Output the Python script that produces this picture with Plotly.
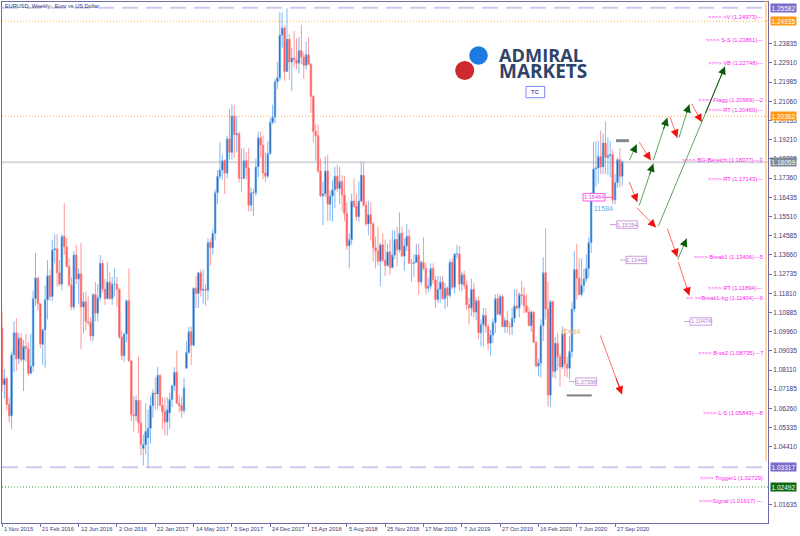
import pandas as pd
import plotly.graph_objects as go

# ---- weekly EURUSD candles ----
opens = [
1.1015,1.0740,1.0770,1.0645,1.0590,1.0885,1.0990,1.0865,1.0965,1.0860,
1.0925,1.0915,1.0795,1.0830,1.1155,1.1255,1.1130,1.0935,1.1005,1.1150,
1.1265,1.1165,1.1390,1.1395,1.1280,1.1225,1.1455,1.1405,1.1310,1.1220,
1.1115,1.1365,1.1250,1.1275,1.1115,1.1140,1.1045,1.1040,1.0975,1.1175,
1.1085,1.1160,1.1325,1.1200,1.1155,1.1235,1.1155,1.1225,1.1225,1.1200,
1.0970,1.0880,1.0985,1.1145,1.0855,1.0595,1.0590,1.0665,1.0555,1.0432,
1.0451,1.0485,1.0530,1.0640,1.0700,1.0695,1.0785,1.0640,1.0610,1.0560,
1.0604,1.0669,1.0735,1.0800,1.0650,1.0640,1.0615,1.0820,1.0895,1.0995,
1.0930,1.1205,1.1180,1.1280,1.1195,1.1200,1.1195,1.1425,1.1400,1.1470,
1.1665,1.1745,1.1775,1.1820,1.1760,1.1925,1.1860,1.2035,1.1945,1.1950,
1.1735,1.1735,1.1820,1.1785,1.1605,1.1665,1.1665,1.1790,1.1930,1.1895,
1.1760,1.1745,1.1855,1.2005,1.2030,1.2200,1.2220,1.2425,1.2460,1.2250,
1.2405,1.2295,1.2315,1.2305,1.2290,1.2350,1.2320,1.2280,1.2330,1.2285,
1.2130,1.1960,1.1940,1.1770,1.1650,1.1660,1.1770,1.1610,1.1650,1.1680,
1.1745,1.1685,1.1720,1.1655,1.1565,1.1410,1.1440,1.1625,1.1600,1.1550,
1.1625,1.1750,1.1605,1.1515,1.1560,1.1515,1.1400,1.1385,1.1335,1.1415,
1.1340,1.1315,1.1380,1.1305,1.1365,1.1440,1.1390,1.1470,1.1360,1.1410,
1.1455,1.1325,1.1325,1.1330,1.1365,1.1235,1.1330,1.1300,1.1205,1.1215,
1.1300,1.1245,1.1150,1.1200,1.1235,1.1155,1.1205,1.1170,1.1330,1.1210,
1.1370,1.1370,1.1225,1.1270,1.1220,1.1125,1.1110,1.1200,1.1090,1.1145,
1.0990,1.1030,1.1075,1.1020,1.0940,1.0980,1.1040,1.1155,1.1080,1.1165,
1.1020,1.1050,1.1020,1.1020,1.1060,1.1120,1.1110,1.1175,1.1170,1.1120,
1.1090,1.1025,1.1090,1.0945,1.0830,1.0845,1.1025,1.1280,1.1105,1.0690,
1.1140,1.0805,1.0940,1.0875,1.0825,1.0985,1.0840,1.0820,1.0900,1.1105,
1.1295,1.1255,1.1175,1.1220,1.1250,1.1300,1.1425,1.1655,1.1780,1.1785,
1.1840,1.1790,1.1905,1.1835,1.1845,1.1850,1.1630,1.1715,1.1825,1.1745]
highs = [
1.1095,1.0815,1.0775,1.0680,1.0900,1.1045,1.1060,1.0990,1.0990,1.0955,
1.0985,1.0945,1.0985,1.1195,1.1375,1.1260,1.1130,1.1010,1.1220,1.1340,
1.1295,1.1438,1.1465,1.1465,1.1340,1.1465,1.1615,1.1445,1.1350,1.1260,
1.1385,1.1415,1.1300,1.1425,1.1185,1.1190,1.1165,1.1065,1.1180,1.1235,
1.1225,1.1365,1.1340,1.1250,1.1330,1.1285,1.1260,1.1300,1.1260,1.1205,
1.1000,1.0990,1.1150,1.1300,1.0855,1.0685,1.0690,1.0875,1.0665,1.0500,
1.0650,1.0620,1.0685,1.0720,1.0775,1.0825,1.0790,1.0680,1.0680,1.0680,
1.0700,1.0740,1.0825,1.0905,1.0690,1.0680,1.0775,1.0950,1.1020,1.1020,
1.1210,1.1265,1.1285,1.1295,1.1295,1.1225,1.1445,1.1445,1.1490,1.1680,
1.1775,1.1910,1.1850,1.1825,1.1940,1.2070,1.2092,1.2090,1.2035,1.1960,
1.1880,1.1880,1.1860,1.1880,1.1690,1.1685,1.1830,1.1960,1.1960,1.1940,
1.1860,1.1915,1.2025,1.2090,1.2215,1.2295,1.2535,1.2535,1.2470,1.2555,
1.2430,1.2365,1.2445,1.2410,1.2415,1.2475,1.2340,1.2395,1.2415,1.2290,
1.2135,1.1995,1.1995,1.1830,1.1720,1.1840,1.1850,1.1675,1.1725,1.1790,
1.1800,1.1790,1.1750,1.1745,1.1620,1.1470,1.1660,1.1735,1.1660,1.1720,
1.1815,1.1815,1.1625,1.1625,1.1620,1.1525,1.1455,1.1500,1.1425,1.1470,
1.1440,1.1420,1.1440,1.1485,1.1485,1.1500,1.1570,1.1500,1.1445,1.1515,
1.1490,1.1345,1.1370,1.1420,1.1420,1.1340,1.1450,1.1325,1.1255,1.1325,
1.1325,1.1265,1.1265,1.1265,1.1265,1.1230,1.1215,1.1345,1.1350,1.1375,
1.1415,1.1410,1.1285,1.1290,1.1240,1.1160,1.1250,1.1230,1.1160,1.1165,
1.1055,1.1110,1.1110,1.1030,1.1005,1.1060,1.1175,1.1180,1.1175,1.1175,
1.1065,1.1095,1.1040,1.1110,1.1200,1.1200,1.1185,1.1240,1.1210,1.1175,
1.1115,1.1100,1.1095,1.0950,1.0865,1.1055,1.1355,1.1495,1.1235,1.1150,
1.1145,1.0970,1.0990,1.0890,1.1020,1.1015,1.0875,1.0975,1.1140,1.1385,
1.1420,1.1350,1.1350,1.1300,1.1370,1.1450,1.1670,1.1910,1.1915,1.1915,
1.1965,1.1950,1.2010,1.1930,1.1915,1.1875,1.1755,1.1835,1.1880,1.1820]
lows = [
1.0705,1.0675,1.0615,1.0560,1.0525,1.0800,1.0805,1.0840,1.0850,1.0710,
1.0850,1.0780,1.0790,1.0800,1.1120,1.1095,1.0915,1.0835,1.0822,1.1055,
1.1145,1.1145,1.1325,1.1215,1.1215,1.1195,1.1365,1.1305,1.1215,1.1100,
1.1100,1.1225,1.1130,1.0910,1.0985,1.1000,1.1025,1.0950,1.0950,1.1045,
1.1045,1.1145,1.1185,1.1125,1.1150,1.1150,1.1125,1.1165,1.1115,1.0960,
1.0860,1.0850,1.0945,1.0850,1.0565,1.0515,1.0565,1.0505,1.0400,1.0350,
1.0405,1.0340,1.0455,1.0580,1.0620,1.0620,1.0640,1.0525,1.0495,1.0495,
1.0525,1.0630,1.0710,1.0650,1.0605,1.0580,1.0600,1.0820,1.0890,1.0835,
1.0925,1.1110,1.1110,1.1165,1.1130,1.1120,1.1145,1.1315,1.1370,1.1435,
1.1610,1.1730,1.1730,1.1660,1.1735,1.1825,1.1825,1.1835,1.1860,1.1715,
1.1670,1.1730,1.1730,1.1575,1.1575,1.1555,1.1650,1.1740,1.1835,1.1730,
1.1715,1.1735,1.1848,1.1995,1.2000,1.2165,1.2205,1.2365,1.2205,1.2250,
1.2210,1.2155,1.2270,1.2260,1.2240,1.2285,1.2215,1.2260,1.2280,1.2050,
1.1910,1.1820,1.1760,1.1645,1.1510,1.1645,1.1530,1.1530,1.1525,1.1590,
1.1670,1.1610,1.1575,1.1530,1.1390,1.1300,1.1415,1.1590,1.1530,1.1525,
1.1620,1.1600,1.1505,1.1460,1.1435,1.1335,1.1300,1.1315,1.1215,1.1330,
1.1265,1.1310,1.1270,1.1300,1.1345,1.1310,1.1375,1.1355,1.1290,1.1385,
1.1320,1.1235,1.1260,1.1330,1.1175,1.1220,1.1290,1.1175,1.1185,1.1200,
1.1225,1.1110,1.1135,1.1135,1.1150,1.1105,1.1115,1.1160,1.1200,1.1180,
1.1345,1.1195,1.1190,1.1200,1.1100,1.1030,1.1070,1.1065,1.1050,1.0960,
1.0925,1.0925,1.0990,1.0905,1.0880,1.0940,1.0990,1.1075,1.1070,1.1020,
1.0990,1.0990,1.0980,1.0980,1.1040,1.1100,1.1065,1.1125,1.1085,1.1085,
1.1020,1.0995,1.0940,1.0825,1.0780,1.0775,1.0950,1.1055,1.0635,1.0635,
1.0775,1.0770,1.0810,1.0730,1.0815,1.0780,1.0775,1.0765,1.0870,1.1090,
1.1150,1.1170,1.1165,1.1185,1.1235,1.1255,1.1375,1.1645,1.1695,1.1710,
1.1755,1.1755,1.1755,1.1750,1.1740,1.1610,1.1610,1.1690,1.1690,1.1700]
closes = [
1.0740,1.0770,1.0645,1.0590,1.0885,1.0990,1.0865,1.0965,1.0860,1.0925,
1.0915,1.0795,1.0830,1.1155,1.1255,1.1130,1.0935,1.1005,1.1150,1.1265,
1.1165,1.1390,1.1395,1.1280,1.1225,1.1455,1.1405,1.1310,1.1220,1.1115,
1.1365,1.1250,1.1275,1.1115,1.1140,1.1045,1.1040,1.0975,1.1175,1.1085,
1.1160,1.1325,1.1200,1.1155,1.1235,1.1155,1.1225,1.1225,1.1200,1.0970,
1.0880,1.0985,1.1145,1.0855,1.0595,1.0590,1.0665,1.0555,1.0450,1.0451,
1.0515,1.0530,1.0640,1.0700,1.0695,1.0785,1.0640,1.0610,1.0560,1.0620,
1.0669,1.0735,1.0800,1.0650,1.0640,1.0615,1.0725,1.0895,1.0995,1.0930,
1.1205,1.1180,1.1280,1.1195,1.1200,1.1195,1.1425,1.1400,1.1470,1.1665,
1.1745,1.1775,1.1820,1.1760,1.1925,1.1860,1.2035,1.1945,1.1950,1.1735,
1.1735,1.1820,1.1785,1.1605,1.1665,1.1665,1.1790,1.1930,1.1895,1.1760,
1.1745,1.1855,1.2005,1.2030,1.2200,1.2220,1.2425,1.2460,1.2250,1.2405,
1.2295,1.2315,1.2305,1.2290,1.2350,1.2320,1.2280,1.2330,1.2285,1.2130,
1.1960,1.1940,1.1770,1.1650,1.1660,1.1770,1.1610,1.1650,1.1680,1.1745,
1.1685,1.1720,1.1655,1.1565,1.1410,1.1440,1.1625,1.1600,1.1550,1.1625,
1.1750,1.1605,1.1515,1.1560,1.1515,1.1400,1.1385,1.1335,1.1415,1.1340,
1.1315,1.1380,1.1305,1.1365,1.1440,1.1390,1.1470,1.1360,1.1410,1.1455,
1.1325,1.1325,1.1330,1.1365,1.1235,1.1330,1.1300,1.1205,1.1215,1.1300,
1.1245,1.1150,1.1200,1.1235,1.1155,1.1205,1.1170,1.1330,1.1210,1.1370,
1.1370,1.1225,1.1270,1.1220,1.1125,1.1110,1.1200,1.1090,1.1145,1.0990,
1.1030,1.1075,1.1020,1.0940,1.0980,1.1040,1.1155,1.1080,1.1165,1.1020,
1.1050,1.1020,1.1020,1.1060,1.1120,1.1110,1.1175,1.1170,1.1120,1.1090,
1.1025,1.1090,1.0945,1.0830,1.0845,1.1025,1.1280,1.1105,1.0690,1.1140,
1.0805,1.0940,1.0875,1.0825,1.0985,1.0840,1.0820,1.0900,1.1105,1.1295,
1.1255,1.1175,1.1220,1.1250,1.1300,1.1425,1.1655,1.1780,1.1785,1.1840,
1.1790,1.1905,1.1835,1.1845,1.1850,1.1630,1.1715,1.1825,1.1745,1.1815]

weeks = pd.date_range("2015-11-01", periods=len(closes), freq="7D")

x_tick_dates = ["2015-11-01","2016-02-21","2016-06-12","2016-10-02","2017-01-22","2017-05-14",
                "2017-09-03","2017-12-24","2018-04-15","2018-08-05","2018-11-25","2019-03-17",
                "2019-07-07","2019-10-27","2020-02-16","2020-06-07","2020-09-27"]
x_tick_labels = ["1 Nov 2015","21 Feb 2016","12 Jun 2016","2 Oct 2016","22 Jan 2017","14 May 2017",
                 "3 Sep 2017","24 Dec 2017","15 Apr 2018","5 Aug 2018","25 Nov 2018","17 Mar 2019",
                 "7 Jul 2019","27 Oct 2019","16 Feb 2020","7 Jun 2020","27 Sep 2020"]
y_ticks = [1.23835,1.22910,1.21985,1.21060,1.20135,1.19210,1.18285,1.17360,1.16435,1.15510,1.14585,
           1.13660,1.12735,1.11810,1.10885,1.09960,1.09035,1.08110,1.07185,1.06260,1.05335,1.04410,
           1.01635]

# price levels: (price drawn, label, line colour, dash, width, label background)
level_prices = [1.2557, 1.2492, 1.2034, 1.1812, 1.0342, 1.0247]
level_labels = ["1.25582","1.24935","1.20362","1.18059","1.03317","1.02492"]
level_colors = ["#cfc9f0","#ffb347","#ffb347","#d3d7da","#cfc9f0","#3f9a3f"]
level_dashes = ["16px,8px","1px,2px","1px,2px","solid","16px,8px","1px,2px"]
level_widths = [2,1,1,2,2,1]
level_boxes  = ["#7a6bc9","#ff9a14","#ff9a14","#7d8a93","#7a6bc9","#0b6a10"]

side_texts = [">>>> >V (1.24973)---",">>>> S-S (1.23861)---",">>>> VB (1.22748)---",
              ">>>> Flagg (1.20969)---2",">>>> RT (1.20460)---",">>>> BG-Bereich (1.18077)---3",
              ">>>> RT (1.17143)---",">>>> Break1 (1.13406)---5",">>>> RT (1.11894)---",
              ">> >>Break1-bg (1.11404)---6",">>>> B-ss2 (1.08735)---7",">>>> L-S (1.05843)---8",
              ">>>> Trigger1 (1.02729)",">>>>Signal (1.01617) ---"]
side_rows = [16.7,40,62.7,100,110,160,179,256.7,288,298,353.3,413,477.7,501]

boxed_texts = ["1.16464","1.15154","1.13449","1.10474","1.07598"]
boxed_left  = [583,616.7,626,690,575.7]
boxed_right = [605,637.7,646.7,711.7,596.7]
boxed_rows  = [197,224.3,259.7,321.3,381.5]
boxed_tail  = [612,610,620,684,569]
boxed_color = ["#ff55ee","#cf9be0","#cf9be0","#cf9be0","#cf9be0"]

green_arrows = [(629.3,160,636.7,144),(639.3,205,653.3,163.3),(653.3,160,667.3,117.3),
                (679,137.3,689.3,104),(658.3,226,725,66),(677.7,259.3,686.7,238.3)]
red_arrows = [(639.3,141.7,650.7,160),(629.3,181.7,637.3,201.7),(636.7,207.3,656,227.3),
              (670,116.7,677.3,137.3),(691.7,103.3,701.7,121.7),(667.3,228.3,677.3,256.7),
              (678.3,261.7,689.3,295.3),(600.3,335.3,622,394.3)]

W, H = 800, 536
L, R, T, B = 2, 768, 1.5, 523
Y_TOP, Y_BOT = 1.25848, 1.00735

def px(x): return (x - L) / (R - L)
def py(y): return (B - y) / (B - T)

fig = go.Figure(go.Candlestick(
    x=weeks, open=opens, high=highs, low=lows, close=closes,
    increasing=dict(line=dict(color="#5fa8f2", width=0.8), fillcolor="#0f4590"),
    decreasing=dict(line=dict(color="#ff7d7d", width=0.8), fillcolor="#ff4a4a"),
    whiskerwidth=0, showlegend=False, hoverinfo="skip"))

shapes, annos = [], []
FONT = "Liberation Sans"

for p, c, d, w in zip(level_prices, level_colors, level_dashes, level_widths):
    shapes.append(dict(type="line", xref="paper", yref="y", x0=0, x1=1, y0=p, y1=p,
                       layer="below", line=dict(color=c, dash=d, width=w)))
for p, t, b in zip(level_prices, level_labels, level_boxes):
    annos.append(dict(xref="paper", yref="y", x=px(770), y=p, xanchor="left", yanchor="middle",
                      text=t, showarrow=False, bgcolor=b, borderpad=0.5,
                      font=dict(family=FONT, size=6.5, color="#ffffff")))

# orange vertical marker
shapes.append(dict(type="line", xref="paper", yref="paper", x0=px(766), x1=px(766), y0=py(0), y1=py(461),
                   line=dict(color="#ffc987", width=1.5)))

# trend arrows
def arrow(seg, line_col, head_col):
    x0, y0, x1, y1 = seg
    shapes.append(dict(type="line", xref="paper", yref="paper", x0=px(x0), y0=py(y0), x1=px(x1), y1=py(y1),
                       line=dict(color=line_col, width=0.9)))
    annos.append(dict(xref="paper", yref="paper", x=px(x1), y=py(y1), ax=(x0-x1)*0.3, ay=(y0-y1)*0.3,
                      axref="pixel", ayref="pixel", text="", showarrow=True, arrowhead=2, arrowsize=1.6,
                      arrowwidth=1, arrowcolor=head_col, standoff=0))
for s in green_arrows: arrow(s, "#4f964f", "#0a5a0a")
for s in red_arrows: arrow(s, "#ff5a5a", "#f01010")

# short grey bars
shapes.append(dict(type="line", xref="paper", yref="paper", x0=px(616), x1=px(629), y0=py(140.3), y1=py(140.3),
                   line=dict(color="#7d8a93", width=3)))
shapes.append(dict(type="line", xref="paper", yref="paper", x0=px(566.7), x1=px(591.7), y0=py(395.3), y1=py(395.3),
                   line=dict(color="#808080", width=2)))

# boxed level labels
for t, l, r, row, tail, c in zip(boxed_texts, boxed_left, boxed_right, boxed_rows, boxed_tail, boxed_color):
    shapes.append(dict(type="line", xref="paper", yref="paper", x0=px(tail), x1=px(l if tail < l else r),
                       y0=py(row), y1=py(row), line=dict(color=c, width=1)))
    shapes.append(dict(type="rect", xref="paper", yref="paper", x0=px(l), x1=px(r), y0=py(row-3.7), y1=py(row+3.7),
                       fillcolor="#ffffff", line=dict(color=c, width=1)))
    annos.append(dict(xref="paper", yref="paper", x=px((l+r)/2), y=py(row), xanchor="center", yanchor="middle",
                      text=t, showarrow=False,
                      font=dict(family=FONT, size=5.6, color="#b57fd0" if c != "#ff55ee" else "#e040d0")))
annos.append(dict(xref="paper", yref="paper", x=px(603), y=py(208.3), xanchor="center", yanchor="middle",
                  text="11584", showarrow=False, font=dict(family=FONT, size=7, color="#6aa8e8")))
annos.append(dict(xref="paper", yref="paper", x=px(571), y=py(331), xanchor="center", yanchor="middle",
                  text="10684", showarrow=False, font=dict(family=FONT, size=7, color="#f0c060")))

# magenta side notes
for t, row in zip(side_texts, side_rows):
    annos.append(dict(xref="paper", yref="paper", x=px(765), y=py(row), xanchor="right", yanchor="middle",
                      text=t, showarrow=False, font=dict(family=FONT, size=5.8, color="#ff22ee")))

# header
annos.append(dict(xref="paper", yref="paper", x=px(3), y=py(6), xanchor="left", yanchor="middle",
                  text="EURUSD, Weekly:  Euro vs US Dollar", showarrow=False,
                  font=dict(family=FONT, size=5.6, color="#34346e")))

# logo
shapes.append(dict(type="circle", xref="paper", yref="paper", x0=px(469.2), x1=px(487.8), y0=py(45.7), y1=py(64.3),
                   fillcolor="#1e7ae0", line=dict(width=0)))
shapes.append(dict(type="circle", xref="paper", yref="paper", x0=px(455.2), x1=px(474.2), y0=py(60.5), y1=py(79.5),
                   fillcolor="#cc2a2e", line=dict(width=0)))
annos.append(dict(xref="paper", yref="paper", x=px(497), y=py(54.5), xanchor="left", yanchor="middle", text="<b>ADMIRAL</b>",
                  showarrow=False, font=dict(family="Open Sans", size=18.2, color="#2f4468")))
annos.append(dict(xref="paper", yref="paper", x=px(497), y=py(71), xanchor="left", yanchor="middle", text="<b>MARKETS</b>",
                  showarrow=False, font=dict(family="Open Sans", size=19, color="#2f4468")))
shapes.append(dict(type="rect", xref="paper", yref="paper", x0=px(526), x1=px(544.7), y0=py(86), y1=py(97.3),
                   fillcolor="#ffffff", line=dict(color="#8585ef", width=1)))
annos.append(dict(xref="paper", yref="paper", x=px(535.3), y=py(91.7), xanchor="center", yanchor="middle",
                  text="<b>TC</b>", showarrow=False, font=dict(family=FONT, size=6, color="#5a5ac8")))

# date labels start at their tick, as in the reference
for d, t in zip(x_tick_dates, x_tick_labels):
    annos.append(dict(xref="x", yref="paper", x=d, y=py(529), xanchor="left", yanchor="middle", xshift=0,
                      text=t, showarrow=False, font=dict(family=FONT, size=5.7, color="#3a3a78")))

fig.update_layout(
    width=W, height=H, autosize=False, paper_bgcolor="#ffffff", plot_bgcolor="#ffffff",
    margin=dict(l=L, r=W-R, t=T, b=H-B), boxgap=0.1,
    shapes=shapes, annotations=annos, showlegend=False, hovermode=False,
    xaxis=dict(type="date", range=["2015-11-01", "2021-12-18"], rangeslider=dict(visible=False),
               showgrid=False, zeroline=False, tickmode="array", tickvals=x_tick_dates, ticktext=[""]*len(x_tick_dates),
               ticks="outside", ticklen=3, tickcolor="#6f6aa8", showline=True, linecolor="#6f6aa8", linewidth=1,
               mirror=True),
    yaxis=dict(side="right", range=[Y_BOT, Y_TOP], showgrid=False, zeroline=False, tickmode="array",
               tickvals=y_ticks, ticktext=[f"{v:.5f}" for v in y_ticks], ticks="outside", ticklen=3,
               tickcolor="#6f6aa8", showline=True, linecolor="#6f6aa8", linewidth=1, mirror=True,
               tickfont=dict(family=FONT, size=6.5, color="#3a3a78")),
)
fig.write_html("out.html", config=dict(displayModeBar=False),
               post_script="document.body.style.margin='0';document.body.style.overflow='hidden';")
